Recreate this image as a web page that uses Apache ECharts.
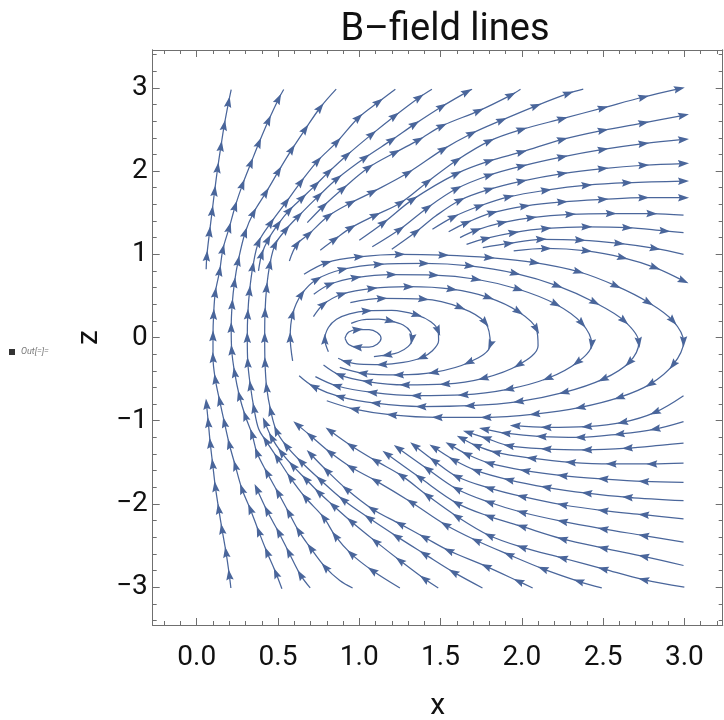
<!DOCTYPE html>
<html><head><meta charset="utf-8">
<script src="https://cdn.jsdelivr.net/npm/echarts@6/dist/echarts.min.js"></script>
<style>html,body{margin:0;padding:0;background:#fff}#c{width:724px;height:720px}</style>
</head><body><div id="c"></div>
<script>
const titleText = 'B\u2013field lines';
const xName = 'x', zName = 'z';
const xRange = [-0.271, 3.236];
const zRange = [-3.455, 3.455];
const xMajor = [0, 0.5, 1, 1.5, 2, 2.5, 3];
const xMinor = [-0.2,-0.1,0.1,0.2,0.3,0.4,0.6,0.7,0.8,0.9,1.1,1.2,1.3,1.4,1.6,1.7,1.8,1.9,2.1,2.2,2.3,2.4,2.6,2.7,2.8,2.9,3.1,3.2];
const zMajor = [-3,-2,-1,0,1,2,3];
const zMinor = [-3.4,-3.2,-2.8,-2.6,-2.4,-2.2,-1.8,-1.6,-1.4,-1.2,-0.8,-0.6,-0.4,-0.2,0.2,0.4,0.6,0.8,1.2,1.4,1.6,1.8,2.2,2.4,2.6,2.8,3.2,3.4];

// streamlines, points in flow order: [x, z, arrowhead at this point (1/0)]
const lineT1 = [[0.058,0.82,0],[0.062,0.98,1],[0.079,1.27,1],[0.095,1.52,1],[0.110,1.76,1],[0.129,2.04,1],[0.149,2.30,1],[0.169,2.55,1],[0.196,2.83,1],[0.212,2.98,0]];
const lineB1 = [[0.210,-3.01,0],[0.200,-2.85,1],[0.180,-2.58,1],[0.155,-2.30,1],[0.135,-2.06,1],[0.114,-1.79,1],[0.098,-1.52,1],[0.083,-1.27,1],[0.071,-1.02,1],[0.060,-0.80,1]];
const lineT2 = [[0.524,-3.02,0],[0.487,-2.83,1],[0.432,-2.58,1],[0.381,-2.33,1],[0.329,-2.06,1],[0.278,-1.82,1],[0.237,-1.54,1],[0.200,-1.28,1],[0.170,-1.02,1],[0.141,-0.76,1],[0.114,-0.50,1],[0.100,-0.24,1],[0.100,0.02,1],[0.104,0.28,1],[0.114,0.54,1],[0.141,0.80,1],[0.161,1.06,1],[0.200,1.32,1],[0.237,1.58,1],[0.282,1.84,1],[0.334,2.10,1],[0.383,2.34,1],[0.442,2.61,1],[0.504,2.87,1],[0.535,2.98,0]];
const lineS3 = [[0.698,-3.01,0],[0.637,-2.85,1],[0.566,-2.58,1],[0.504,-2.34,1],[0.432,-2.08,1],[0.370,-1.82,1]];
const lineLb = [[0.959,-3.01,0],[0.88,-2.92,0],[0.79,-2.76,1],[0.70,-2.53,1],[0.627,-2.324,1],[0.566,-2.103,1],[0.50,-1.863,1],[0.432,-1.623,1],[0.370,-1.382,1],[0.34,-1.16,1],[0.298,-0.94,1],[0.262,-0.70,1],[0.233,-0.42,1],[0.215,-0.15,1],[0.212,0.12,1],[0.218,0.40,1],[0.232,0.66,1],[0.255,0.92,1],[0.298,1.262,1],[0.350,1.502,1],[0.426,1.743,1],[0.504,2.002,1],[0.586,2.263,1],[0.668,2.504,1],[0.760,2.764,1],[0.858,2.984,0]];
const lineLc = [[1.25,-3.01,0],[1.08,-2.80,1],[0.95,-2.60,1],[0.852,-2.385,1],[0.781,-2.163,1],[0.668,-1.923,1],[0.575,-1.683,1],[0.494,-1.442,1],[0.425,-1.24,1],[0.381,-1.10,0],[0.352,-0.85,1],[0.33,-0.58,1],[0.314,-0.30,1],[0.311,0.0,1],[0.314,0.28,1],[0.325,0.56,1],[0.345,0.85,1],[0.381,1.149,1],[0.457,1.382,1],[0.551,1.630,1],[0.641,1.870,1],[0.744,2.123,1],[0.863,2.351,1],[0.996,2.644,1],[1.119,2.832,1],[1.222,2.984,0]];
const lineU6 = [[1.758,-3.01,0],[1.58,-2.82,1],[1.40,-2.60,1],[1.23,-2.39,1],[1.06,-2.17,1],[0.90,-1.95,1],[0.76,-1.71,1],[0.64,-1.49,1],[0.55,-1.30,1],[0.49,-1.12,1],[0.455,-0.88,1],[0.43,-0.60,1],[0.42,-0.30,1],[0.418,0.0,1],[0.42,0.30,1],[0.43,0.60,1],[0.45,0.88,1],[0.483,1.121,1],[0.55,1.30,1],[0.627,1.462,1],[0.750,1.702,1],[0.865,1.911,1],[1.037,2.163,1],[1.201,2.375,1],[1.341,2.564,1],[1.509,2.776,1],[1.663,2.952,1],[1.694,2.984,0]];
const lineA5 = [[0.38,0.80,0],[0.40,1.00,1],[0.44,1.18,1],[0.50,1.36,1],[0.57,1.53,1],[0.65,1.68,1],[0.732,1.834,1],[0.812,1.990,1],[0.924,2.191,1],[1.078,2.444,1],[1.218,2.663,1],[1.369,2.885,1],[1.447,2.984,0]];
const lineA5m = [[1.486,-3.01,0],[1.40,-2.90,1],[1.25,-2.68,1],[1.10,-2.45,1],[0.95,-2.21,1],[0.84,-2.02,1],[0.75,-1.86,1],[0.67,-1.70,1],[0.59,-1.54,1],[0.52,-1.38,1],[0.46,-1.20,1],[0.42,-1.02,1]];
const lineU7 = [[0.68,1.38,0],[0.78,1.58,1],[0.90,1.79,1],[1.058,2.043,1],[1.222,2.224,1],[1.366,2.375,1],[1.509,2.543,1],[1.735,2.724,1],[1.933,2.913,1],[1.992,2.984,0]];
const lineU7m = [[2.067,-3.01,0],[1.98,-2.93,1],[1.78,-2.75,1],[1.55,-2.56,1],[1.40,-2.40,1],[1.25,-2.24,1],[1.08,-2.06,1],[0.92,-1.82,1],[0.80,-1.60,1],[0.70,-1.40,1]];
const lineU8 = [[0.57,0.92,0],[0.617,1.121,1],[0.689,1.242,1],[0.812,1.462,1],[0.95,1.62,1],[1.083,1.75,1],[1.30,1.98,1],[1.518,2.264,1],[1.692,2.452,1],[1.877,2.612,1],[2.088,2.784,1],[2.287,2.933,1],[2.378,2.984,0]];
const lineU8m = [[2.492,-3.01,0],[2.35,-2.93,1],[2.13,-2.78,1],[1.92,-2.61,1],[1.72,-2.44,1],[1.53,-2.25,1],[1.32,-1.98,1],[1.10,-1.72,1],[0.95,-1.56,1],[0.82,-1.38,1],[0.70,-1.18,1],[0.62,-1.05,1]];
const lineRa = [[0.76,1.05,0],[0.85,1.18,1],[0.95,1.32,1],[1.10,1.47,1],[1.255,1.62,1],[1.42,1.87,1],[1.60,2.13,1],[1.80,2.36,1],[2.00,2.50,1],[2.25,2.63,1],[2.50,2.76,1],[2.75,2.89,1],[2.97,2.99,1]];
const lineRam = [[3.0,-3.0,0],[2.75,-2.91,1],[2.50,-2.78,1],[2.25,-2.65,1],[2.00,-2.52,1],[1.80,-2.38,1],[1.60,-2.15,1],[1.42,-1.90,1],[1.26,-1.66,1],[1.10,-1.48,1],[0.95,-1.30,1],[0.82,-1.12,1]];
const lineRb = [[1.00,1.17,0],[1.15,1.38,1],[1.33,1.66,1],[1.60,1.97,1],[1.80,2.12,1],[2.00,2.23,1],[2.25,2.38,1],[2.50,2.49,1],[2.75,2.58,1],[2.995,2.67,1]];
const lineRbm = [[2.995,-2.74,0],[2.75,-2.63,1],[2.50,-2.53,1],[2.25,-2.42,1],[2.00,-2.27,1],[1.80,-2.15,1],[1.60,-1.99,1],[1.37,-1.68,1],[1.17,-1.40,1]];
const lineRc = [[1.08,1.09,0],[1.25,1.30,1],[1.42,1.56,1],[1.60,1.79,1],[1.80,1.95,1],[2.00,2.06,1],[2.25,2.17,1],[2.50,2.26,1],[2.75,2.33,1],[2.995,2.38,1]];
const lineRcm = [[2.995,-2.46,0],[2.75,-2.38,1],[2.50,-2.30,1],[2.25,-2.21,1],[2.00,-2.10,1],[1.80,-1.98,1],[1.60,-1.82,1],[1.42,-1.58,1],[1.24,-1.33,1]];
const lineRd = [[1.20,1.06,0],[1.35,1.27,1],[1.47,1.46,0],[1.62,1.65,1],[1.80,1.78,1],[2.00,1.88,1],[2.25,1.97,1],[2.50,2.03,1],[2.75,2.07,1],[2.995,2.09,1]];
const lineRdm = [[2.995,-2.18,0],[2.75,-2.13,1],[2.50,-2.08,1],[2.25,-2.01,1],[2.00,-1.91,1],[1.80,-1.81,1],[1.60,-1.67,1],[1.46,-1.48,1],[1.34,-1.30,1]];
const lineRe = [[1.45,1.30,0],[1.58,1.45,1],[1.74,1.58,1],[1.92,1.69,1],[2.15,1.77,1],[2.40,1.83,1],[2.65,1.86,1],[2.995,1.88,1]];
const lineRem = [[2.995,-1.96,0],[2.65,-1.92,1],[2.40,-1.87,1],[2.15,-1.80,1],[1.92,-1.71,1],[1.72,-1.60,1],[1.58,-1.47,1],[1.46,-1.32,1]];
const lineRf = [[1.55,1.27,0],[1.66,1.38,1],[1.82,1.50,1],[2.02,1.58,1],[2.25,1.63,1],[2.50,1.66,1],[2.75,1.68,1],[2.995,1.68,1]];
const lineRfm = [[2.995,-1.74,0],[2.75,-1.73,1],[2.50,-1.70,1],[2.25,-1.66,1],[2.02,-1.60,1],[1.80,-1.51,1],[1.66,-1.40,1],[1.56,-1.29,1]];
const lineRg = [[1.62,1.20,0],[1.72,1.29,1],[1.88,1.38,1],[2.06,1.44,1],[2.30,1.48,1],[2.55,1.49,1],[2.80,1.49,1],[2.995,1.47,0]];
const lineRgm = [[2.995,-1.51,0],[2.80,-1.52,1],[2.55,-1.52,1],[2.30,-1.50,1],[2.06,-1.45,1],[1.84,-1.38,1],[1.72,-1.30,1],[1.63,-1.21,1]];
const lineRh = [[1.66,1.12,0],[1.78,1.19,1],[1.95,1.26,1],[2.15,1.31,1],[2.40,1.33,1],[2.65,1.32,1],[2.88,1.28,1],[2.995,1.26,0]];
const lineRhm = [[2.995,-1.27,0],[2.88,-1.29,0],[2.65,-1.33,1],[2.40,-1.35,1],[2.15,-1.34,1],[1.92,-1.30,1],[1.78,-1.21,1],[1.67,-1.14,1]];
const lineRi = [[1.76,1.08,0],[1.92,1.13,1],[2.12,1.18,1],[2.36,1.17,1],[2.60,1.13,1],[2.82,1.07,1],[2.995,1.00,0]];
const lineRim = [[2.995,-1.01,0],[2.82,-1.10,1],[2.60,-1.16,1],[2.36,-1.20,1],[2.12,-1.19,1],[1.90,-1.15,1],[1.77,-1.10,1]];
const lineRj = [[1.95,1.04,0],[2.15,1.07,1],[2.40,1.04,1],[2.62,0.96,1],[2.82,0.84,1],[2.995,0.68,1]];
const lineRjm = [[2.995,-0.70,0],[2.82,-0.90,1],[2.62,-1.02,1],[2.40,-1.07,1],[2.15,-1.08,1],[1.96,-1.06,1]];
const loopL1 = [[0.912,-0.01,0],[0.935,0.065,0],[0.99,0.095,1],[1.06,0.095,0],[1.11,0.06,0],[1.134,-0.01,0],[1.11,-0.08,0],[1.06,-0.115,0],[0.985,-0.115,1],[0.935,-0.085,0],[0.912,-0.01,0]];
const loopL2 = [[0.95,0.17,0],[1.03,0.215,0],[1.12,0.22,0],[1.191,0.20,1],[1.27,0.15,0],[1.315,0.07,0],[1.324,-0.02,1],[1.30,-0.11,0],[1.24,-0.18,0],[1.17,-0.21,1],[1.09,-0.23,0]];
const loopL3 = [[0.81,-0.17,0],[0.788,-0.02,1],[0.81,0.12,0],[0.86,0.22,0],[0.94,0.285,0],[1.047,0.32,1],[1.20,0.325,0],[1.355,0.27,1],[1.44,0.19,0],[1.485,0.08,1],[1.488,-0.04,0],[1.45,-0.16,0],[1.386,-0.24,1],[1.27,-0.30,0],[1.14,-0.325,1],[1.00,-0.32,0],[0.92,-0.29,1],[0.87,-0.25,0]];
const loopL4 = [[0.945,0.42,0],[1.14,0.469,1],[1.396,0.46,1],[1.622,0.36,1],[1.775,0.18,1],[1.806,-0.09,1],[1.673,-0.30,1],[1.458,-0.42,1],[1.242,-0.45,1],[1.02,-0.43,1],[0.88,-0.36,0]];
const loopL5 = [[0.718,0.25,0],[0.78,0.40,1],[0.894,0.52,1],[1.08,0.59,1],[1.304,0.61,1],[1.57,0.58,1],[1.796,0.48,1],[1.98,0.31,1],[2.09,0.10,1],[2.10,-0.10,0],[1.98,-0.33,1],[1.763,-0.49,1],[1.527,-0.56,1],[1.28,-0.57,1],[1.05,-0.53,1],[0.88,-0.45,1],[0.78,-0.33,0]];
const loopL6 = [[0.72,0.52,0],[0.82,0.64,1],[0.98,0.72,1],[1.20,0.755,1],[1.46,0.75,1],[1.72,0.70,1],[1.98,0.58,1],[2.21,0.40,1],[2.37,0.17,1],[2.43,-0.08,1],[2.34,-0.30,1],[2.16,-0.49,1],[1.92,-0.62,1],[1.64,-0.69,1],[1.35,-0.70,1],[1.08,-0.66,1],[0.86,-0.58,1],[0.73,-0.47,0]];
const loopL7 = [[0.59,-0.28,0],[0.575,0.0,1],[0.59,0.28,1],[0.645,0.52,1],[0.74,0.70,1],[0.90,0.82,1],[1.12,0.88,1],[1.40,0.89,1],[1.68,0.86,1],[1.96,0.77,1],[2.22,0.62,1],[2.45,0.42,1],[2.63,0.20,1],[2.72,-0.06,1],[2.66,-0.30,1],[2.50,-0.50,1],[2.26,-0.66,1],[1.98,-0.77,1],[1.68,-0.82,1],[1.38,-0.83,1],[1.10,-0.79,1],[0.88,-0.71,1],[0.72,-0.59,1],[0.63,-0.46,0]];
const loopL8 = [[0.66,0.76,0],[0.80,0.90,1],[1.00,0.97,1],[1.25,1.00,1],[1.52,0.99,1],[1.80,0.96,1],[2.08,0.90,1],[2.35,0.79,1],[2.58,0.62,1],[2.78,0.42,1],[2.93,0.20,1],[2.995,-0.05,1],[2.93,-0.33,1],[2.79,-0.56,1],[2.60,-0.72,1],[2.36,-0.84,1],[2.08,-0.92,1],[1.78,-0.96,1],[1.48,-0.96,1],[1.20,-0.93,1],[0.97,-0.86,1],[0.80,-0.76,0]];

const streamlines = [lineT1, lineB1, lineT2, lineS3, lineLb, lineLc, lineU6, lineA5, lineA5m, lineU7, lineU7m, lineU8, lineU8m,
  lineRa, lineRam, lineRb, lineRbm, lineRc, lineRcm, lineRd, lineRdm, lineRe, lineRem, lineRf, lineRfm, lineRg, lineRgm,
  lineRh, lineRhm, lineRi, lineRim, lineRj, lineRjm, loopL1, loopL2, loopL3, loopL4, loopL5, loopL6, loopL7, loopL8];

const COLOR = '#4a669b';
const AXC = '#6f6f6f';
const FONT = 'Roboto';
const arrowPath = 'path://M0,0L3.4,10L0,8.5L-3.4,10Z M-5,5L-5,5.01L-4.99,5Z M5,5L5,5.01L4.99,5Z';

// arrowheads: a very short segment along the local direction of the stream, ending at the arrow point
const arrowSegs = [];
streamlines.forEach(function (ln) {
  for (let i = 1; i < ln.length; i++) {
    if (!ln[i][2]) continue;
    const a = ln[i-1], b = (i + 1 < ln.length) ? ln[i+1] : ln[i];
    const dx = b[0] - a[0], dz = b[1] - a[1];
    arrowSegs.push({coords: [[ln[i][0] - 0.06 * dx, ln[i][1] - 0.06 * dz], [ln[i][0], ln[i][1]]]});
  }
});

const curveSeries = streamlines.map(function (ln) {
  return {type:'line', xAxisIndex:0, yAxisIndex:0, data: ln.map(function(p){return [p[0], p[1]];}),
    smooth:0.35, symbol:'none', silent:true, clip:true,
    lineStyle:{color:COLOR, width:1.25}, emphasis:{disabled:true}};
});

function zfmt(v){ return v < 0 ? '\u2212' + Math.abs(v) : String(v); }
function mkX(pos, vals, len, labels, extra){
  return Object.assign({
    type:'value', min:xRange[0], max:xRange[1], position:pos,
    axisLine:{show:true, onZero:false, lineStyle:{color:AXC, width:1}},
    axisTick:{show:true, inside:true, length:len, customValues:vals, lineStyle:{color:AXC, width:1}},
    axisLabel:{show:labels, customValues:vals, formatter:function(v){return v.toFixed(1);}, color:'#111', fontFamily:FONT, fontSize:28, margin:19},
    splitLine:{show:false}, minorTick:{show:false}
  }, extra||{});
}
function mkY(pos, vals, len, labels, extra){
  return Object.assign({
    type:'value', min:zRange[0], max:zRange[1], position:pos,
    axisLine:{show:true, onZero:false, lineStyle:{color:AXC, width:1}},
    axisTick:{show:true, inside:true, length:len, customValues:vals, lineStyle:{color:AXC, width:1}},
    axisLabel:{show:labels, customValues:vals, formatter:zfmt, color:'#111', fontFamily:FONT, fontSize:28, margin:5},
    splitLine:{show:false}, minorTick:{show:false}
  }, extra||{});
}

const chart = echarts.init(document.getElementById('c'), null, {renderer:'canvas'});
chart.setOption({
  animation:false,
  backgroundColor:'#fff',
  title:{text:titleText, left:440, top:6, textAlign:'center', textStyle:{fontFamily:FONT, fontSize:38, fontWeight:'normal', color:'#111'}},
  grid:{left:152.7, right:1.3, top:50, bottom:95, containLabel:false, outerBoundsMode:'none'},
  xAxis:[
    mkX('bottom', xMajor, 7, true, {name:xName, nameLocation:'middle', nameGap:66, nameTextStyle:{fontFamily:FONT, fontSize:30, color:'#111'}}),
    mkX('bottom', xMinor, 4, false),
    mkX('top', xMajor, 7, false),
    mkX('top', xMinor, 4, false)
  ],
  yAxis:[
    mkY('left', zMajor, 7, true, {name:zName, nameLocation:'middle', nameGap:48, nameRotate:90, nameTextStyle:{fontFamily:FONT, fontSize:30, color:'#111'}}),
    mkY('left', zMinor, 4, false),
    mkY('right', zMajor, 7, false),
    mkY('right', zMinor, 4, false)
  ],
  graphic:[
    {type:'rect', left:9, top:349, shape:{width:6, height:6}, style:{fill:'#333'}},
    {type:'text', left:21, top:347, style:{text:'Out[=]=', fontFamily:FONT, fontStyle:'italic', fontSize:9, fill:'#777'}}
  ],
  series: curveSeries.concat([
    {type:'lines', coordinateSystem:'cartesian2d', xAxisIndex:0, yAxisIndex:0,
     symbol:['none', arrowPath], symbolSize:11, silent:true,
     lineStyle:{color:COLOR, width:1, opacity:1, curveness:0}, data:arrowSegs}
  ])
});
</script>
</body></html>
